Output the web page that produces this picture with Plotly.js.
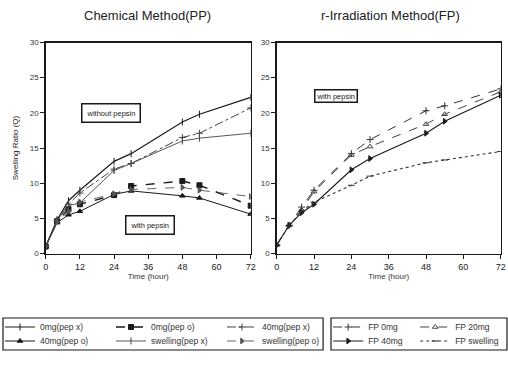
<!DOCTYPE html>
<html><head><meta charset="utf-8">
<script src="https://cdn.plot.ly/plotly-3.0.1.min.js"></script>
<style>html,body{margin:0;padding:0;background:#fff}#plot{width:508px;height:371px}</style>
</head><body><div id="plot"></div>
<script>
// Time points (hour)
const time = [0, 4, 8, 12, 24, 30, 48, 54, 72];

// Chemical Method (PP)
const chemLabels = ['0mg(pep x)', '0mg(pep o)', '40mg(pep x)', '40mg(pep o)', 'swelling(pep x)', 'swelling(pep o)'];
const chem0mgPepX      = [1, 4.8, 7.5, 9.0, 13.1, 14.2, 18.7, 19.8, 22.2];
const chem0mgPepO      = [1, 4.6, 6.3, 7.0, 8.3, 9.6, 10.3, 9.7, 6.8];
const chem40mgPepX     = [1, 4.7, 7.0, 8.6, 12.0, 12.8, 16.5, 17.1, 20.7];
const chem40mgPepO     = [1, 4.4, 5.5, 6.0, 8.4, 8.9, 8.2, 7.9, 5.6];
const chemSwellingPepX = [1, 4.7, 6.8, 7.2, 11.8, 12.8, 16.0, 16.4, 17.1];
const chemSwellingPepO = [1, 4.5, 6.0, 7.3, 8.5, 9.1, 9.4, 9.0, 8.1];

// r-Irradiation Method (FP)
const fpLabels = ['FP 0mg', 'FP 20mg', 'FP 40mg', 'FP swelling'];
const fp0mg      = [1.2, 4.0, 6.6, 9.0, 14.2, 16.2, 20.3, 21.0, 23.4];
const fp20mg     = [1.2, 4.0, 6.2, 8.8, 14.0, 15.2, 18.4, 19.8, 23.0];
const fp40mg     = [1.2, 4.0, 5.8, 7.0, 11.9, 13.5, 17.1, 18.8, 22.5];
const fpSwelling = [1.2, 4.0, 6.0, 7.3, 9.7, 11.0, 12.9, 13.3, 14.5];

const xTicks = [0, 12, 24, 36, 48, 60, 72];
const yTicks = [0, 5, 10, 15, 20, 25, 30];

const FONT = 'Liberation Sans, Arial, sans-serif';
const INK = '#1a1a1a';

function tr(x, y, name, xa, ya, leg, dash, sym, width, color) {
  return {
    x: x, y: y, name: name, type: 'scatter', mode: 'lines+markers',
    xaxis: xa, yaxis: ya, legend: leg,
    line: {color: color || INK, width: width || 1.1, dash: dash},
    marker: {symbol: sym, size: 5, color: color || INK, line: {color: color || INK, width: 1}}
  };
}

const data = [
  tr(time, chem0mgPepX, chemLabels[0], 'x', 'y', 'legend', 'solid', 'line-ns-open', 1.2),
  tr(time, chem0mgPepO, chemLabels[1], 'x', 'y', 'legend', 'dash', 'square', 1.4),
  tr(time, chem40mgPepX, chemLabels[2], 'x', 'y', 'legend', 'dashdot', 'cross-thin-open', 1.0, '#444'),
  tr(time, chem40mgPepO, chemLabels[3], 'x', 'y', 'legend2', 'solid', 'triangle-up', 1.0),
  tr(time, chemSwellingPepX, chemLabels[4], 'x', 'y', 'legend2', 'solid', 'line-ns-open', 0.9, '#444'),
  tr(time, chemSwellingPepO, chemLabels[5], 'x', 'y', 'legend2', 'dash', 'triangle-right', 0.9, '#555'),
  tr(time, fp0mg, fpLabels[0], 'x3', 'y3', 'legend3', 'dash', 'cross-thin-open', 1.0, '#333'),
  tr(time, fp20mg, fpLabels[1], 'x3', 'y3', 'legend3', 'dash', 'triangle-up-open', 1.0, '#444'),
  tr(time, fp40mg, fpLabels[2], 'x3', 'y3', 'legend4', 'solid', 'triangle-right', 1.1),
  tr(time, fpSwelling, fpLabels[3], 'x3', 'y3', 'legend4', 'dot', 'line-ew-open', 1.1, '#333')
];

function xax(domain, anchor) {
  return {
    domain: domain, anchor: anchor, range: [0, 72], tickvals: xTicks, ticktext: xTicks.map(String),
    showgrid: false, zeroline: false, showline: true, mirror: true, linecolor: INK, linewidth: 1.5,
    ticks: 'outside', ticklen: 4, tickcolor: INK, tickfont: {family: FONT, size: 9, color: '#222'},
    title: {text: 'Time (hour)', font: {family: FONT, size: 8, color: '#333'}, standoff: 2}
  };
}
function yax(anchor, titleText) {
  return {
    domain: [0.3167, 0.8854], anchor: anchor, range: [0, 30], tickvals: yTicks, ticktext: yTicks.map(String),
    showgrid: false, zeroline: false, showline: true, mirror: true, linecolor: INK, linewidth: 1.5,
    ticks: 'outside', ticklen: 4, tickcolor: INK, tickfont: {family: FONT, size: 8, color: '#333'},
    title: {text: titleText, font: {family: FONT, size: 8, color: '#222'}, standoff: 10}
  };
}

const legFont = {family: FONT, size: 8.5, color: '#333'};
function leg(x, y, w) {
  return {orientation: 'h', x: x, y: y, xanchor: 'left', yanchor: 'middle', entrywidth: w,
    entrywidthmode: 'pixels', font: legFont, bgcolor: 'rgba(0,0,0,0)', borderwidth: 0,
    itemwidth: 30, tracegroupgap: 0};
}

const layout = {
  width: 508, height: 371,
  margin: {l: 0, r: 0, t: 0, b: 0, autoexpand: false},
  paper_bgcolor: '#fff', plot_bgcolor: '#fff',
  showlegend: true,
  xaxis: xax([0.09, 0.4935], 'y'),
  yaxis: yax('x', 'Swelling Ratio (Q)'),
  xaxis3: xax([0.5447, 0.9856], 'y3'),
  yaxis3: yax('x3', ''),
  legend: leg(0.0, 0.1186, 66),
  legend2: leg(0.0, 0.0809, 66),
  legend3: leg(0.646, 0.1186, 42),
  legend4: leg(0.646, 0.0809, 42),
  shapes: [
    {type: 'rect', xref: 'paper', yref: 'paper', x0: 0.0059, x1: 0.636, y0: 0.0566, y1: 0.1429, line: {color: INK, width: 1.2}},
    {type: 'rect', xref: 'paper', yref: 'paper', x0: 0.6516, x1: 0.998, y0: 0.0566, y1: 0.1429, line: {color: INK, width: 1.2}}
  ],
  annotations: [
    {text: 'Chemical Method(PP)', xref: 'paper', yref: 'paper', x: 0.291, y: 0.957, xanchor: 'center', yanchor: 'middle',
      showarrow: false, font: {family: FONT, size: 13, color: '#222'}},
    {text: 'r-Irradiation Method(FP)', xref: 'paper', yref: 'paper', x: 0.768, y: 0.957, xanchor: 'center', yanchor: 'middle',
      showarrow: false, font: {family: FONT, size: 13, color: '#222'}},
    {text: 'without pepsin', xref: 'x', yref: 'y', x: 23, y: 20, showarrow: false,
      font: {family: FONT, size: 7.5, color: '#222'}, bordercolor: INK, borderwidth: 1.5, borderpad: 4, bgcolor: '#fff'},
    {text: 'with pepsin', xref: 'x', yref: 'y', x: 36.8, y: 4.1, showarrow: false,
      font: {family: FONT, size: 7.5, color: '#222'}, bordercolor: INK, borderwidth: 1.5, borderpad: 4, bgcolor: '#fff'},
    {text: 'with pepsin', xref: 'x3', yref: 'y3', x: 19, y: 22.4, showarrow: false,
      font: {family: FONT, size: 7.5, color: '#222'}, bordercolor: INK, borderwidth: 1.5, borderpad: 1, bgcolor: '#fff'}
  ]
};

Plotly.newPlot('plot', data, layout, {displayModeBar: false, staticPlot: true});
</script>
</body></html>
